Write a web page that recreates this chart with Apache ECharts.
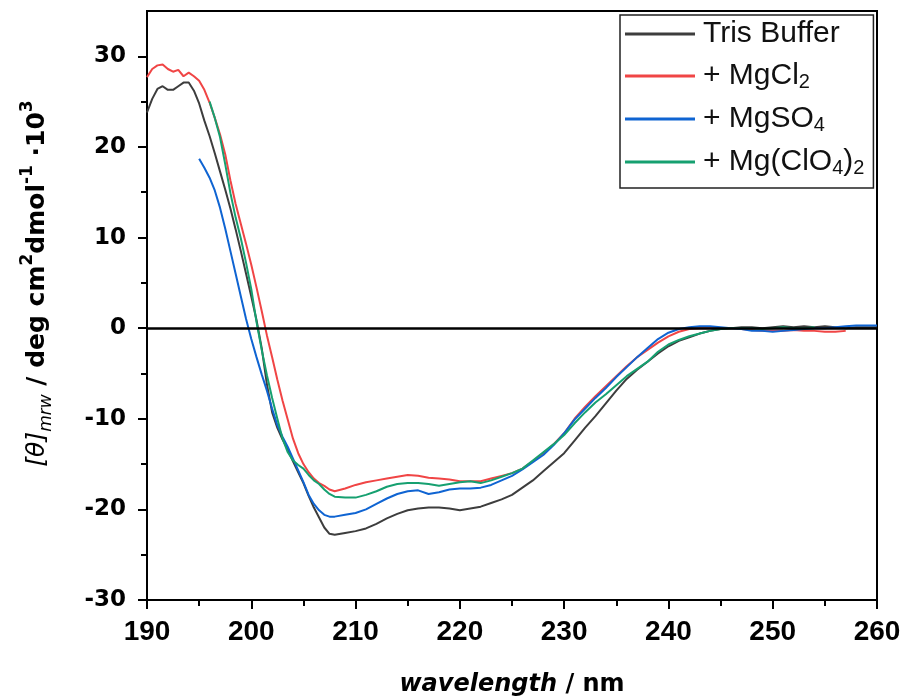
<!DOCTYPE html>
<html>
<head>
<meta charset="UTF-8">
<title>CD spectra</title>
<script src="https://cdn.jsdelivr.net/npm/echarts@6/dist/echarts.min.js"></script>
<style>
  html, body { margin: 0; padding: 0; background: #fff; }
  #main { width: 907px; height: 700px; }
</style>
</head>
<body>
<div id="main"></div>
<script type="text/javascript">
// wavelength grid (nm): 0.5 nm steps up to 208, then 1 nm steps
var wavelength = [
  190, 190.5, 191, 191.5, 192, 192.5, 193, 193.5, 194, 194.5,
  195, 195.5, 196, 196.5, 197, 197.5, 198, 198.5, 199, 199.5,
  200, 200.5, 201, 201.5, 202, 202.5, 203, 203.5, 204, 204.5,
  205, 205.5, 206, 206.5, 207, 207.5, 208,
  209, 210, 211, 212, 213, 214, 215, 216, 217, 218, 219, 220,
  221, 222, 223, 224, 225, 226, 227, 228, 229, 230,
  231, 232, 233, 234, 235, 236, 237, 238, 239, 240,
  241, 242, 243, 244, 245, 246, 247, 248, 249, 250,
  251, 252, 253, 254, 255, 256, 257, 258, 259, 260
];

var seriesNames = ['Tris Buffer', '+ MgCl2', '+ MgSO4', '+ Mg(ClO4)2'];

var tris = [
  23.8, 25.3, 26.4, 26.7, 26.3, 26.3, 26.7, 27.1, 27.1, 26.2,
  24.8, 22.9, 21.2, 19.3, 17.3, 15.3, 13.2, 10.9, 8.5, 6.0,
  3.5, 0.9, -2.2, -6.2, -9.3, -11.0, -12.3, -13.4, -14.7, -15.9,
  -17.1, -18.5, -19.8, -20.9, -22.0, -22.7, -22.8,
  -22.6, -22.4, -22.1, -21.6, -21.0, -20.5, -20.1, -19.9, -19.8, -19.8, -19.9, -20.1,
  -19.9, -19.7, -19.3, -18.9, -18.4, -17.6, -16.8, -15.8, -14.8, -13.8,
  -12.4, -11.0, -9.7, -8.3, -6.9, -5.6, -4.6, -3.7, -2.8, -2.0,
  -1.4, -1.0, -0.6, -0.3, -0.1, 0.0, 0.1, 0.1, 0.0, 0.1,
  0.2, 0.1, 0.2, 0.1, 0.2, 0.1, 0.0, 0.1, 0.1, 0.1
];

var mgcl2 = [
  27.7, 28.6, 29.0, 29.1, 28.6, 28.3, 28.5, 27.8, 28.2, 27.8,
  27.3, 26.3, 24.9, 23.2, 21.4, 19.2, 16.3, 13.7, 11.5, 9.3,
  7.0, 4.5, 1.9, -0.8, -3.2, -5.7, -8.0, -10.1, -12.2, -13.8,
  -15.0, -15.9, -16.6, -17.1, -17.4, -17.8, -18.0,
  -17.7, -17.3, -17.0, -16.8, -16.6, -16.4, -16.2, -16.3, -16.5, -16.6, -16.7, -16.9,
  -16.9, -16.9, -16.6, -16.3, -16.0, -15.5, -14.7, -13.8, -12.8, -11.6,
  -10.0, -8.7, -7.5, -6.4, -5.3, -4.2, -3.2, -2.4, -1.6, -0.9,
  -0.4, -0.1, 0.0, 0.0, 0.0, 0.0, -0.1, -0.2, -0.3, -0.3,
  -0.3, -0.2, -0.3, -0.3, -0.4, -0.4, -0.3, null, null, null
];

var mgso4 = [
  null, null, null, null, null, null, null, null, null, null,
  18.7, 17.7, 16.6, 15.2, 13.3, 11.0, 8.5, 6.0, 3.5, 1.0,
  -1.2, -3.2, -5.1, -6.9, -8.9, -10.7, -12.0, -13.1, -14.4, -15.7,
  -17.0, -18.4, -19.4, -20.1, -20.6, -20.8, -20.8,
  -20.6, -20.4, -20.0, -19.4, -18.8, -18.3, -18.0, -17.9, -18.3, -18.1, -17.8, -17.7,
  -17.7, -17.6, -17.3, -16.8, -16.3, -15.6, -14.8, -14.0, -12.9, -11.6,
  -10.1, -8.9, -7.7, -6.6, -5.4, -4.3, -3.2, -2.2, -1.2, -0.5,
  -0.1, 0.1, 0.2, 0.2, 0.1, 0.0, -0.1, -0.3, -0.3, -0.4,
  -0.3, -0.2, -0.1, 0.0, 0.0, 0.1, 0.2, 0.3, 0.3, 0.3
];

var mgclo4 = [
  null, null, null, null, null, null, null, null, null, null,
  null, null, 25.0, 23.2, 21.1, 18.1, 14.9, 12.2, 9.9, 7.2,
  4.3, 0.7, -2.4, -5.2, -7.7, -10.0, -12.2, -13.7, -14.6, -15.1,
  -15.5, -16.2, -16.8, -17.2, -17.8, -18.3, -18.6,
  -18.7, -18.7, -18.4, -18.0, -17.5, -17.2, -17.1, -17.1, -17.2, -17.4, -17.2, -17.0,
  -16.9, -17.1, -16.8, -16.4, -16.0, -15.5, -14.6, -13.7, -12.8, -11.8,
  -10.5, -9.3, -8.2, -7.3, -6.3, -5.3, -4.5, -3.7, -2.6, -1.8,
  -1.3, -0.9, -0.6, -0.3, -0.1, 0.0, 0.0, 0.0, -0.1, 0.0,
  0.1, 0.0, 0.0, 0.1, null, null, null, null, null, null
];

var colors = ['#3d3d3d', '#f04545', '#0f64d2', '#16a070'];
var yLabelTicks = [-30, -20, -10, 0, 10, 20, 30];
var yMinorTicks = [-25, -15, -5, 5, 15, 25];

function pairs(vals) {
  var out = [];
  for (var i = 0; i < wavelength.length; i++) {
    if (vals[i] !== null) out.push([wavelength[i], vals[i]]);
  }
  return out;
}

var FONT = 'Liberation Sans, Arial, sans-serif';
var WIDE = 'DejaVu Sans, sans-serif';
var myChart = echarts.init(document.getElementById('main'));

var allVals = [tris, mgcl2, mgso4, mgclo4];
var series = allVals.map(function (v, i) {
  return {
    name: seriesNames[i],
    type: 'line',
    data: pairs(v),
    showSymbol: false,
    symbol: 'none',
    lineStyle: { color: colors[i], width: 2 },
    itemStyle: { color: colors[i] },
    z: 3
  };
});
// zero line
series[0].markLine = {
  silent: true,
  symbol: 'none',
  label: { show: false },
  lineStyle: { color: '#000', width: 2.5, type: 'solid' },
  data: [{ yAxis: 0 }],
  z: 5
};

var option = {
  animation: false,
  backgroundColor: '#fff',
  grid: {
    left: 147, right: 30, top: 11, bottom: 100,
    containLabel: false,
    outerBoundsMode: 'none',
    show: true,
    borderColor: '#000',
    borderWidth: 2
  },
  legend: {
    orient: 'vertical',
    left: 620,
    top: 15,
    padding: [4, 9, 10, 5],
    itemGap: 11,
    itemWidth: 70,
    itemHeight: 3,
    icon: 'rect',
    borderColor: '#222',
    borderWidth: 1.5,
    backgroundColor: '#fff',
    data: seriesNames,
    formatter: function (name) {
      return name.replace(/(\d)/g, '{sub|$1}');
    },
    textStyle: {
      fontFamily: FONT,
      fontSize: 30,
      color: '#111',
      padding: [0, 0, 0, 3],
      lineHeight: 30,
      rich: {
        sub: { fontFamily: FONT, fontSize: 20, color: '#111', lineHeight: 20, padding: [12, 0, 0, 0] }
      }
    }
  },
  xAxis: {
    type: 'value',
    min: 190,
    max: 260,
    interval: 10,
    name: '{it|wavelength}{b| / nm}',
    nameLocation: 'middle',
    nameGap: 73,
    nameTextStyle: {
      rich: {
        it: { fontFamily: WIDE, fontSize: 24, fontWeight: 'bold', fontStyle: 'italic', color: '#000' },
        b: { fontFamily: WIDE, fontSize: 24, fontWeight: 'bold', color: '#000' }
      }
    },
    axisLine: { onZero: false, lineStyle: { color: '#000', width: 2 } },
    axisTick: { show: true, inside: false, length: 9, lineStyle: { color: '#000', width: 2 } },
    minorTick: { show: true, splitNumber: 2, length: 6, lineStyle: { color: '#000', width: 2 } },
    axisLabel: { color: '#000', fontFamily: FONT, fontSize: 28, fontWeight: 'bold', margin: 18 },
    splitLine: { show: false },
    minorSplitLine: { show: false }
  },
  yAxis: [{
    type: 'value',
    min: -30,
    max: 35,
    interval: 5,
    position: 'left',
    name: '{it|[θ]}{sub|mrw}{b| / deg cm}{sup|2}{b|dmol}{sup|-1}{b| ·10}{sup|3}',
    nameLocation: 'middle',
    nameRotate: 90,
    nameGap: 92,
    nameTextStyle: {
      lineHeight: 36,
      padding: [0, 0, 0, 44],
      rich: {
        it: { fontFamily: WIDE, fontSize: 25, fontStyle: 'italic', color: '#000', lineHeight: 36 },
        sub: { fontFamily: WIDE, fontSize: 17, fontStyle: 'italic', color: '#000', verticalAlign: 'bottom', lineHeight: 17 },
        b: { fontFamily: WIDE, fontSize: 25, fontWeight: 'bold', color: '#000', lineHeight: 36 },
        sup: { fontFamily: WIDE, fontSize: 17, fontWeight: 'bold', color: '#000', verticalAlign: 'top', lineHeight: 17 }
      }
    },
    axisLine: { onZero: false, lineStyle: { color: '#000', width: 2 } },
    axisTick: { show: true, inside: false, length: 9, customValues: yLabelTicks, lineStyle: { color: '#000', width: 2 } },
    axisLabel: { color: '#000', fontFamily: WIDE, fontSize: 23, fontWeight: 'bold', margin: 21, customValues: yLabelTicks },
    splitLine: { show: false }
  }, {
    type: 'value',
    min: -30,
    max: 35,
    interval: 5,
    position: 'left',
    axisLine: { show: false },
    axisTick: { show: true, inside: false, length: 6, customValues: yMinorTicks, lineStyle: { color: '#000', width: 2 } },
    axisLabel: { show: false },
    splitLine: { show: false }
  }],
  series: series
};

myChart.setOption(option);
</script>
</body>
</html>
